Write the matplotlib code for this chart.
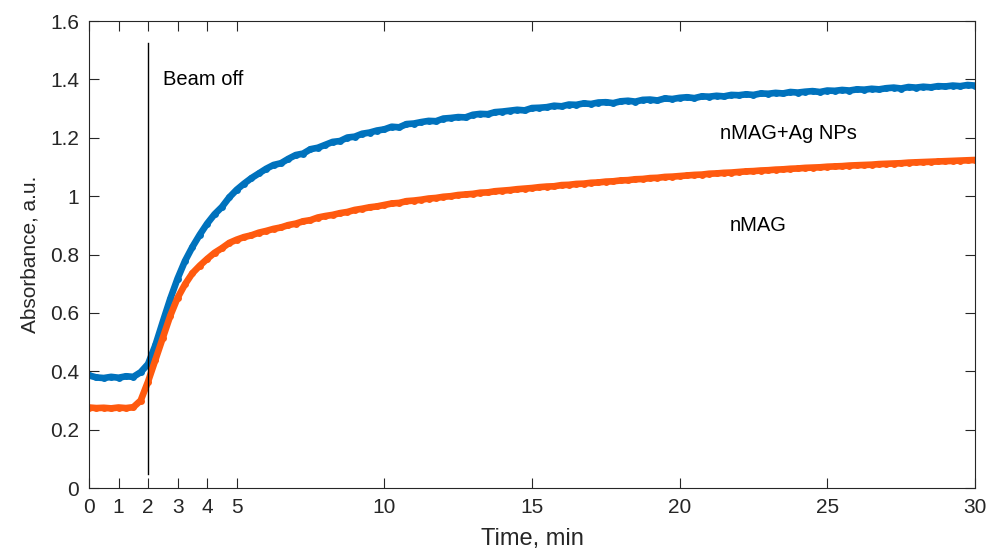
import numpy as np
import matplotlib
matplotlib.use("Agg")
import matplotlib.pyplot as plt

plt.rcParams['font.family'] = ['Liberation Sans', 'DejaVu Sans']

# sampling times (min), 0.25 min step
time_min = np.arange(0, 30.001, 0.25)

ag_nps = [0.386, 0.379, 0.377, 0.381, 0.378, 0.383, 0.381,
          0.397, 0.425, 0.490, 0.570, 0.648, 0.718, 0.778, 0.826, 0.868, 0.906,
          0.938, 0.963, 0.996, 1.022, 1.043, 1.062, 1.078, 1.094, 1.107, 1.113,
          1.128, 1.141, 1.146, 1.161, 1.166, 1.176, 1.186, 1.189, 1.201, 1.204,
          1.214, 1.218, 1.225, 1.229, 1.238, 1.236, 1.247, 1.249, 1.254, 1.258,
          1.257, 1.266, 1.268, 1.271, 1.270, 1.279, 1.282, 1.281, 1.288, 1.290,
          1.293, 1.296, 1.294, 1.302, 1.303, 1.305, 1.310, 1.308, 1.314, 1.313,
          1.318, 1.316, 1.321, 1.322, 1.319, 1.325, 1.327, 1.324, 1.330, 1.331,
          1.328, 1.335, 1.333, 1.337, 1.339, 1.336, 1.342, 1.341, 1.344, 1.342,
          1.347, 1.346, 1.349, 1.347, 1.352, 1.351, 1.354, 1.352, 1.357, 1.355,
          1.358, 1.360, 1.357, 1.362, 1.361, 1.364, 1.362, 1.366, 1.365, 1.368,
          1.366, 1.370, 1.372, 1.369, 1.374, 1.372, 1.375, 1.373, 1.377, 1.376,
          1.379, 1.377, 1.381, 1.379]

nmag = [0.276, 0.274, 0.275, 0.273, 0.276, 0.274, 0.277,
        0.300, 0.365, 0.440, 0.515, 0.590, 0.652, 0.698, 0.736, 0.762, 0.785,
        0.806, 0.822, 0.840, 0.851, 0.860, 0.866, 0.875, 0.881, 0.888, 0.893,
        0.901, 0.906, 0.914, 0.918, 0.927, 0.932, 0.936, 0.942, 0.946, 0.953,
        0.957, 0.962, 0.965, 0.970, 0.975, 0.977, 0.983, 0.985, 0.988, 0.992,
        0.994, 0.998, 1.000, 1.004, 1.006, 1.008, 1.012, 1.013, 1.017, 1.019,
        1.021, 1.024, 1.026, 1.028, 1.031, 1.033, 1.034, 1.038, 1.039, 1.042,
        1.043, 1.046, 1.047, 1.050, 1.051, 1.054, 1.055, 1.058, 1.059, 1.062,
        1.063, 1.066, 1.067, 1.069, 1.071, 1.073, 1.074, 1.077, 1.078, 1.080,
        1.081, 1.083, 1.085, 1.086, 1.088, 1.089, 1.091, 1.092, 1.094, 1.095,
        1.097, 1.098, 1.099, 1.101, 1.102, 1.103, 1.105, 1.106, 1.107, 1.108,
        1.110, 1.111, 1.112, 1.113, 1.115, 1.116, 1.117, 1.118, 1.119, 1.120,
        1.121, 1.122, 1.123, 1.124]

x_ticks = [0, 1, 2, 3, 4, 5, 10, 15, 20, 25, 30]
y_ticks = [0, 0.2, 0.4, 0.6, 0.8, 1.0, 1.2, 1.4, 1.6]
y_tick_labels = ['0', '0.2', '0.4', '0.6', '0.8', '1', '1.2', '1.4', '1.6']
beam_off_time = 2

blue = '#0072BD'
orange = '#FF5A0F'
dark = '#262626'

fig = plt.figure(figsize=(9.89, 5.49), dpi=100)
ax = fig.add_axes([0.09, 0.111, 0.8958, 0.8506])

for y, c in [(ag_nps, blue), (nmag, orange)]:
    ax.plot(time_min, y, '-', color=c, lw=4.8, solid_capstyle='round')
    ax.plot(time_min, y, 'o', color=c, ms=5, mec='none')

ax.plot([beam_off_time, beam_off_time], [0.048, 1.524], color='black', lw=1)

ax.text(2.5, 1.40, 'Beam off', fontsize=14.5, va='center', ha='left', color='black')
ax.text(21.35, 1.215, 'nMAG+Ag NPs', fontsize=14.5, va='center', ha='left', color='black')
ax.text(21.7, 0.898, 'nMAG', fontsize=14.5, va='center', ha='left', color='black')

ax.set_xlim(0, 30)
ax.set_ylim(0, 1.6)
ax.set_xticks(x_ticks)
ax.set_yticks(y_ticks)
ax.set_yticklabels(y_tick_labels)
ax.tick_params(direction='in', length=7, width=0.8, colors=dark, labelsize=15,
               top=True, right=True, labeltop=False, labelright=False, pad=7)
for s in ax.spines.values():
    s.set_color(dark)
    s.set_linewidth(0.8)

ax.set_xlabel('Time, min', fontsize=17, color=dark, labelpad=8)
ax.set_ylabel('Absorbance, a.u.', fontsize=15, color=dark, labelpad=8)

fig.savefig('out.png', dpi=100)
